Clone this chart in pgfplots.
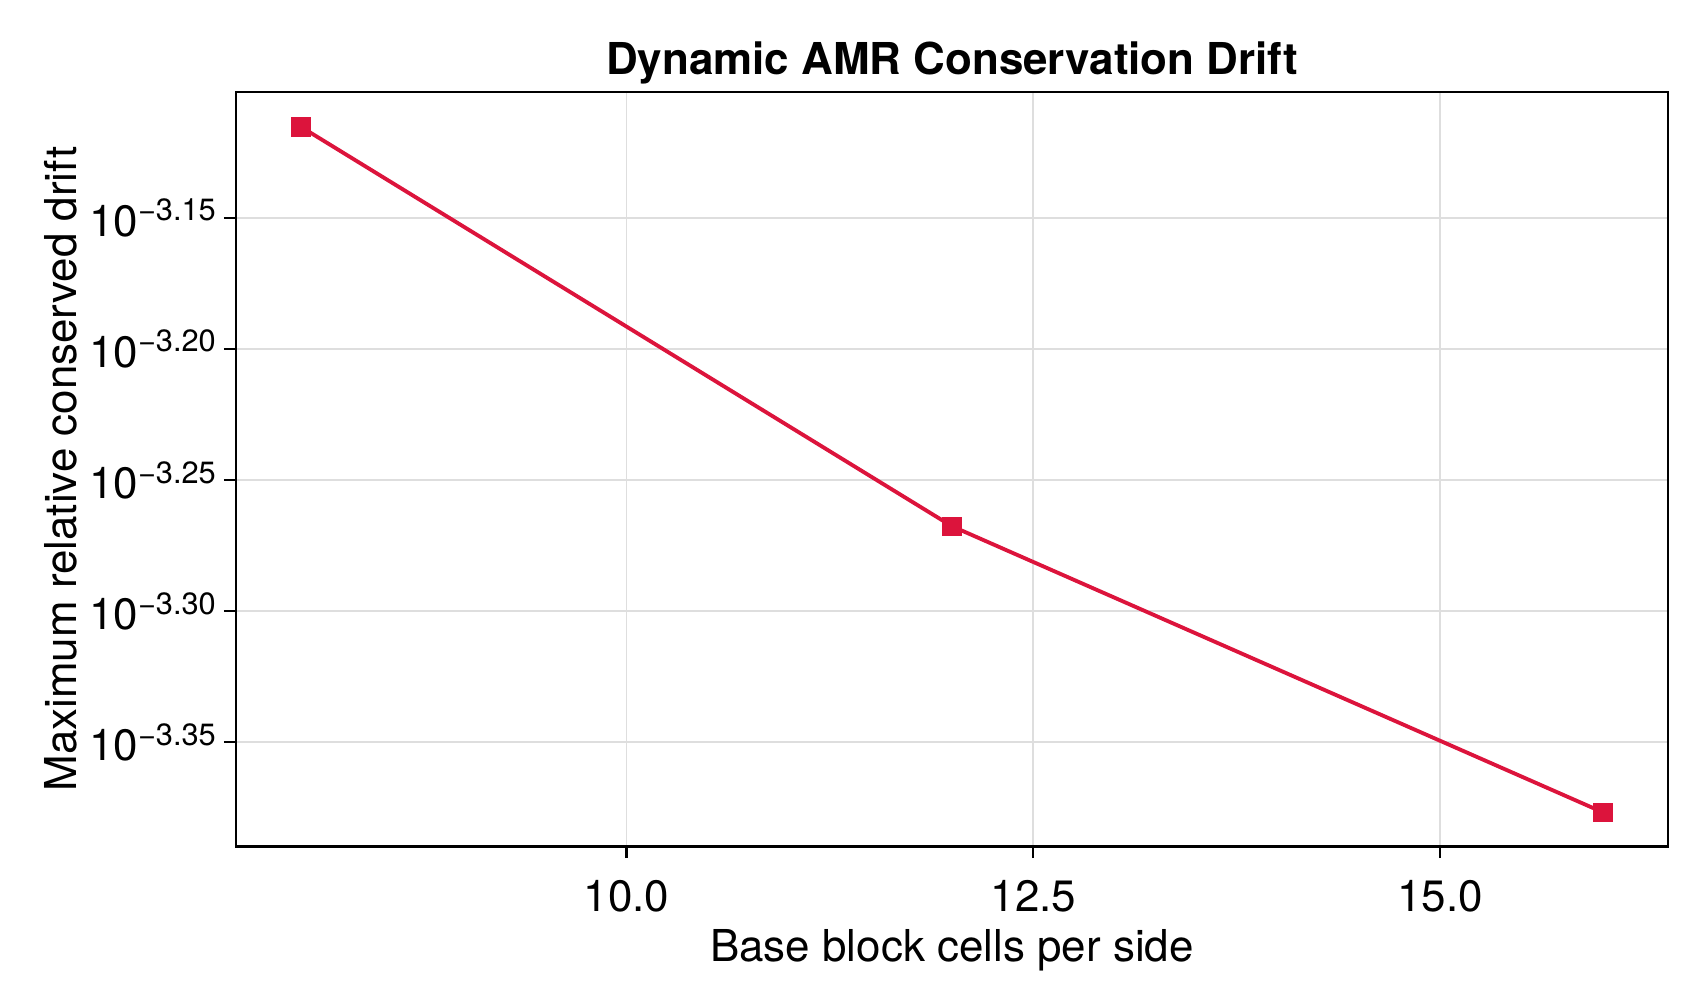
\documentclass[border=0pt]{standalone}
\usepackage{pgfplots}
\pgfplotsset{compat=1.18}
\usepackage{fontspec}
\setmainfont{TeX Gyre Heros}

\definecolor{drift}{HTML}{DC143C}

\begin{document}
\begin{tikzpicture}
\begin{axis}[
    name=ax,
    scale only axis,
    width=14.32cm, height=7.54cm,
    ymode=log,
    xmin=7.6, xmax=16.4,
    ymin=4.077e-4, ymax=7.909e-4,
    xtick={10,12.5,15},
    xticklabels={10.0,12.5,15.0},
    ytick={7.0795e-4,6.3096e-4,5.6234e-4,5.0119e-4,4.4668e-4},
    yticklabels={10\textsuperscript{−3.15},10\textsuperscript{−3.20},10\textsuperscript{−3.25},10\textsuperscript{−3.30},10\textsuperscript{−3.35}},
    minor tick num=0,
    tick align=outside,
    tick pos=left,
    major tick length=0.12cm,
    axis line style={line width=0.8pt},
    major tick style={line width=0.6pt, black},
    grid=major,
    major grid style={line width=0.5pt, black!13},
    ticklabel style={font=\fontsize{12.5}{14}\selectfont},
    xticklabel style={yshift=-0.1cm},
    yticklabel style={xshift=0.06cm},
    xlabel={Base block cells per side},
    ylabel={Maximum relative conserved drift},
    label style={font=\fontsize{12.5}{15}\selectfont},
    xlabel style={yshift=0.07cm},
    ylabel style={yshift=-0.12cm},
    title={\bfseries Dynamic AMR Conservation Drift},
    title style={font=\fontsize{12.5}{15}\selectfont, yshift=-0.26cm},
]
\addplot[drift, line width=1.1pt, mark=square*, mark size=2.2pt, mark options={solid, fill=drift}] coordinates {
    (8, 7.67e-4)
    (12, 5.40e-4)
    (16, 4.20e-4)
};
\end{axis}
\pgfresetboundingbox
\path[use as bounding box] (ax.south west) ++(-2.36cm,-1.54cm) rectangle ++(17cm,10cm);
\end{tikzpicture}
\end{document}
